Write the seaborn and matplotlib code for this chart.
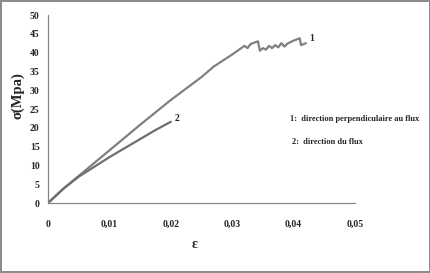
import pandas as pd
import matplotlib.pyplot as plt
import seaborn as sns
import numpy as np

# Données
eps_1 = [0, 0.0025, 0.005, 0.01, 0.015, 0.02, 0.025, 0.027, 0.03, 0.032, 0.0325,
         0.033, 0.0342, 0.0345, 0.035, 0.0355, 0.036, 0.0365, 0.037, 0.0375,
         0.038, 0.0385, 0.039, 0.040, 0.041, 0.0412, 0.042]
sig_1 = [0, 3.8, 7.2, 14.0, 20.8, 27.4, 33.5, 36.3, 39.5, 41.8, 41.2,
         42.3, 43.0, 40.5, 41.2, 40.8, 41.8, 41.2, 42.0, 41.4,
         42.5, 41.6, 42.4, 43.2, 43.8, 42.0, 42.5]
eps_2 = [0, 0.0025, 0.005, 0.0075, 0.01, 0.0125, 0.015, 0.0175, 0.02]
sig_2 = [0, 3.8, 7.0, 9.6, 12.2, 14.6, 17.0, 19.4, 21.6]

x_ticks = [0, 0.01, 0.02, 0.03, 0.04, 0.05]
x_labels = ['0', '0,01', '0,02', '0,03', '0,04', '0,05']
y_ticks = list(range(0, 55, 5))

df = pd.concat([
    pd.DataFrame({'eps': eps_1, 'sig': sig_1, 'courbe': '1'}),
    pd.DataFrame({'eps': eps_2, 'sig': sig_2, 'courbe': '2'}),
])

sns.set_style("white")
plt.rcParams['font.family'] = ['Liberation Serif', 'DejaVu Serif']
plt.rcParams['font.weight'] = 'bold'

fig = plt.figure(figsize=(4.31, 2.73), dpi=100)
fig.patch.set_edgecolor('#8c8c8c')
fig.patch.set_linewidth(1.5)
ax = fig.add_axes([0.1114, 0.2564, 0.7123, 0.6886])

sns.lineplot(data=df, x='eps', y='sig', hue='courbe', palette=['#808080', '#6e6e6e'],
             estimator=None, sort=False, linewidth=1.6, legend=False, ax=ax)

ax.set_xlim(0, 0.05)
ax.set_ylim(0, 50)
ax.set_xticks(x_ticks)
ax.set_xticklabels(x_labels)
ax.set_yticks(y_ticks)
ax.tick_params(axis='both', direction='out', length=3, width=0.8, color='#868686',
               labelsize=7, pad=3)
ax.tick_params(axis='x', pad=9)
for lab in ax.get_xticklabels() + ax.get_yticklabels():
    lab.set_fontweight('bold')

sns.despine(ax=ax)
for s in ['left', 'bottom']:
    ax.spines[s].set_color('#868686')
    ax.spines[s].set_linewidth(0.9)

ax.set_xlabel('ε', fontsize=10, fontweight='bold')
ax.xaxis.set_label_coords(0.477, -0.185)
ax.set_ylabel('σ(Mpa)', fontsize=10.5, fontweight='bold')
ax.yaxis.set_label_coords(-0.075, 0.574)

ax.text(eps_1[-1] + 0.0005, sig_1[-2] + 1.0, '1', fontsize=7, fontweight='bold')
ax.text(eps_2[-1] + 0.0007, sig_2[-1] + 0.3, '2', fontsize=7, fontweight='bold')

fig.text(0.673, 0.557, '1:  direction perpendiculaire au flux', fontsize=6, fontweight='bold')
fig.text(0.677, 0.472, '2:  direction du flux', fontsize=6, fontweight='bold')

plt.savefig('out.png', dpi=100)
plt.close()
